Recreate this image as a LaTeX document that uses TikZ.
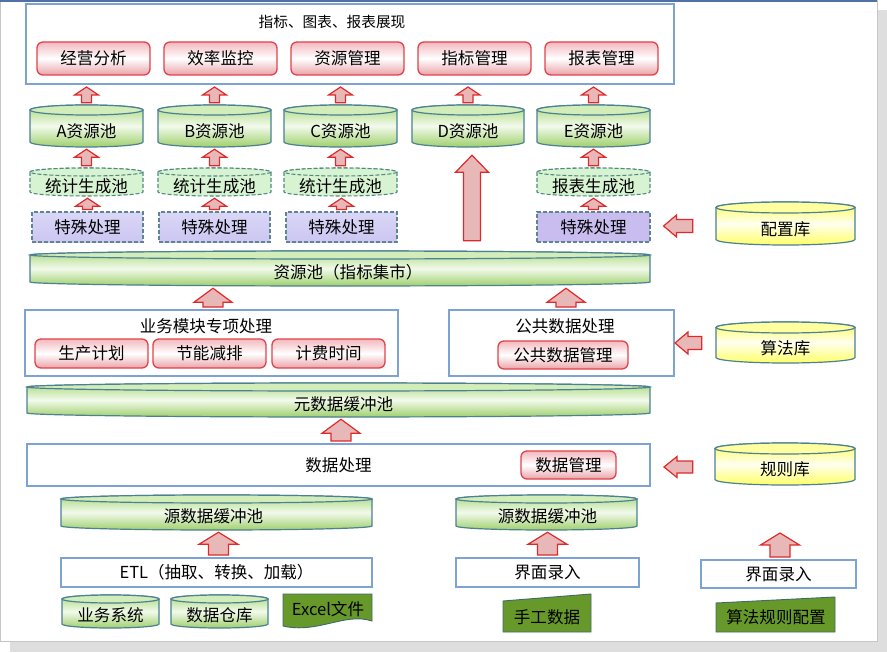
\documentclass[tikz,border=0pt]{standalone}
\usepackage{fontspec}
\setmainfont{Noto Sans CJK SC}
\usetikzlibrary{calc}
\definecolor{bblue}{HTML}{7DA3D5}
\definecolor{rborder}{HTML}{E0434B}
\definecolor{rtop}{HTML}{F3B8BE}
\definecolor{rbot}{HTML}{EAA2A9}
\definecolor{cylb}{HTML}{4C8193}
\definecolor{gtop}{HTML}{A9D97A}
\definecolor{gmid}{HTML}{F2FAEC}
\definecolor{gbot}{HTML}{9FD06C}
\definecolor{gell}{HTML}{D2EDBA}
\definecolor{ytop}{HTML}{FFFF57}
\definecolor{ymid}{HTML}{FFFFF0}
\definecolor{ybot}{HTML}{FFFF66}
\definecolor{yell}{HTML}{FFFFA0}
\definecolor{dfill}{HTML}{D8F3D2}
\definecolor{dashg}{HTML}{4E8A80}
\definecolor{lavtop}{HTML}{DAD7F7}
\definecolor{lavbot}{HTML}{CCC6F1}
\definecolor{lavE}{HTML}{C9BDF0}
\definecolor{dashc}{HTML}{5F8595}
\definecolor{arrred}{HTML}{E02A2A}
\definecolor{arrfill}{HTML}{E8B7B8}
\definecolor{dkgf}{HTML}{67992A}
\definecolor{dkgb}{HTML}{3F6B6E}
\definecolor{shadowgray}{HTML}{DEDEDE}
\definecolor{frameblue}{HTML}{4F71A6}
% cylinder: name, x1, y1, x2, y2, ry, style, text, text x shift
\newcommand\cyl[9]{%
  \path[#7 body] (#2,#3+#6) -- (#2,#5-#6)
     arc[start angle=180,end angle=0,x radius={(#4-#2)/2},y radius=#6]
     -- (#4,#3+#6)
     arc[start angle=0,end angle=-180,x radius={(#4-#2)/2},y radius=#6] -- cycle;
  \path[#7 top] ({(#2+#4)/2},#3+#6) ellipse[x radius={(#4-#2)/2},y radius=#6];
  \node[inner sep=0,minimum width={(#4-#2)*0.75pt},minimum height={(#5-#3)*0.75pt}] (#1) at ({(#2+#4)/2},{(#3+#5)/2}) {};
  \node[txt] (#1-t) at ({(#2+#4)/2+#9},{(#3+2*#6+#5)/2}) {#8};
}
% box: name, x1, y1, x2, y2, style, text
\newcommand\bx[7]{\node[#6,inner sep=0,minimum width={(#4-#2)*0.75pt},minimum height={(#5-#3)*0.75pt}] (#1) at ({(#2+#4)/2},{(#3+#5)/2}) {#7};}
% block arrow up: from, to, halfhead, halfshaft, headlen
\newcommand\blkup[5]{%
  \draw[blk] let \p1=(#1), \p2=(#2) in
   (\x1-#4*0.75pt,\y1+1.5pt) -- (\x1-#4*0.75pt,\y2-1.5pt-#5*0.75pt)
   -- (\x1-#3*0.75pt,\y2-1.5pt-#5*0.75pt) -- (\x1,\y2-1.5pt)
   -- (\x1+#3*0.75pt,\y2-1.5pt-#5*0.75pt) -- (\x1+#4*0.75pt,\y2-1.5pt-#5*0.75pt)
   -- (\x1+#4*0.75pt,\y1+1.5pt) -- cycle;
}
% block arrow left: from (tail), to (tip), halfhead, halfshaft, headlen
\newcommand\blkleft[5]{%
  \draw[blk] let \p1=(#1), \p2=(#2) in
   (\x1,\y2+#4*0.75pt) -- (\x2+#5*0.75pt,\y2+#4*0.75pt)
   -- (\x2+#5*0.75pt,\y2+#3*0.75pt) -- (\x2,\y2)
   -- (\x2+#5*0.75pt,\y2-#3*0.75pt) -- (\x2+#5*0.75pt,\y2-#4*0.75pt)
   -- (\x1,\y2-#4*0.75pt) -- cycle;
}
\begin{document}
\begin{tikzpicture}[x=0.75pt,y=-0.75pt,
  txt/.style={inner sep=0,font=\fontsize{12.4}{14}\selectfont},
  ttl/.style={inner sep=0,font=\fontsize{11}{13}\selectfont},
  bbox/.style={draw=bblue,line width=1.5pt,fill=white,font=\fontsize{12.4}{14}\selectfont},
  redbox/.style={draw=rborder,line width=1pt,rounded corners=4.5pt,top color=rtop,bottom color=rbot,middle color=white,font=\fontsize{12.4}{14}\selectfont},
  lav/.style={draw=dashc,dash pattern=on 3pt off 1.5pt,line width=0.8pt,top color=lavtop,bottom color=lavbot,font=\fontsize{12.4}{14}\selectfont},
  lavdark/.style={draw=dashc,dash pattern=on 3pt off 1.5pt,line width=0.8pt,fill=lavE,font=\fontsize{12.4}{14}\selectfont},
  gcyl body/.style={draw=cylb,line width=0.9pt,top color=gtop,bottom color=gbot,middle color=gmid},
  gcyl top/.style={draw=cylb,line width=0.9pt,fill=gell},
  ycyl body/.style={draw=cylb,line width=0.9pt,top color=ytop,bottom color=ybot,middle color=ymid},
  ycyl top/.style={draw=cylb,line width=0.9pt,fill=yell},
  dcyl body/.style={draw=dashg,dash pattern=on 3pt off 1.5pt,line width=0.8pt,fill=dfill},
  dcyl top/.style={draw=dashg,dash pattern=on 3pt off 1.5pt,line width=0.8pt,fill=dfill},
  blk/.style={draw=arrred,fill=arrfill,line width=0.9pt,line join=miter},
  dkg/.style={draw=dkgb,fill=dkgf,line width=0.7pt}]
\useasboundingbox (0,0) rectangle (887,652);
% page frame and shadow
\fill[white] (0,0) rectangle (887,652);
\fill[shadowgray] (877,10) rectangle (887,652);
\fill[shadowgray] (10,641) rectangle (887,652);
\draw[gray!45,line width=0.6pt] (0.4,0.5) rectangle (877,641);
\draw[frameblue,line width=1.4pt] (0,1) -- (877,1);

% top presentation box
\bx{topbox}{26}{4}{674}{84}{bbox}{}
\node[ttl] (title) at (332,22) {指标、图表、报表展现};
\bx{r1}{37}{42}{150}{75}{redbox}{经营分析}
\bx{r2}{164}{42}{277}{75}{redbox}{效率监控}
\bx{r3}{291}{42}{404}{75}{redbox}{资源管理}
\bx{r4}{418}{42}{531}{75}{redbox}{指标管理}
\bx{r5}{545}{42}{658}{75}{redbox}{报表管理}

% resource pools
\cyl{pA}{30}{105}{143}{147}{5}{gcyl}{A资源池}{0}
\cyl{pB}{158}{105}{271}{147}{5}{gcyl}{B资源池}{0}
\cyl{pC}{284}{105}{397}{147}{5}{gcyl}{C资源池}{0}
\cyl{pD}{412}{105}{524}{147}{5}{gcyl}{D资源池}{0}
\cyl{pE}{537}{105}{650}{147}{5}{gcyl}{E资源池}{0}

% statistic pools
\cyl{sA}{30}{168}{143}{196}{4}{dcyl}{统计生成池}{0}
\cyl{sB}{158}{168}{271}{196}{4}{dcyl}{统计生成池}{0}
\cyl{sC}{284}{168}{397}{196}{4}{dcyl}{统计生成池}{0}
\cyl{sE}{537}{168}{650}{196}{4}{dcyl}{报表生成池}{0}

% special processing
\bx{tA}{32}{212}{143}{242}{lav}{特殊处理}
\bx{tB}{159}{212}{270}{242}{lav}{特殊处理}
\bx{tC}{286}{212}{397}{242}{lav}{特殊处理}
\bx{tE}{537}{212}{650}{242}{lavdark}{特殊处理}

\cyl{cfg}{716}{202}{855}{245}{5.5}{ycyl}{配置库}{0}

% resource pool (index mart)
\cyl{res}{30}{251}{650}{286}{4}{gcyl}{资源池（指标集市）}{8}

% business module box
\bx{biz}{25}{310}{398}{376}{bbox}{}
\node[txt] (bizt) at (206,326) {业务模块专项处理};
\bx{b1}{35}{339}{148}{368}{redbox}{生产计划}
\bx{b2}{153}{339}{266}{368}{redbox}{节能减排}
\bx{b3}{272}{339}{385}{368}{redbox}{计费时间}

% public data box
\bx{pub}{449}{310}{674}{376}{bbox}{}
\node[txt] (pubt) at (565,326) {公共数据处理};
\bx{pm}{498}{341}{628}{369}{redbox}{公共数据管理}

\cyl{algo}{716}{322}{855}{363}{5.5}{ycyl}{算法库}{0}

% meta data buffer
\cyl{meta}{27}{383}{650}{417}{4}{gcyl}{元数据缓冲池}{5}

% data processing
\bx{dp}{27}{444}{650}{486}{bbox}{数据处理}
\bx{dm}{521}{451}{616}{479}{redbox}{数据管理}
\cyl{rule}{715}{443}{855}{485}{5.5}{ycyl}{规则库}{0}

% source buffers
\cyl{src1}{61}{495}{372}{530}{4}{gcyl}{源数据缓冲池}{-3}
\cyl{src2}{456}{495}{637}{530}{4}{gcyl}{源数据缓冲池}{1}

% input boxes
\bx{etl}{61}{558}{372}{587}{bbox}{ETL（抽取、转换、加载）}
\bx{ui1}{456}{558}{639}{587}{bbox}{界面录入}
\bx{ui2}{701}{560}{856}{588}{bbox}{界面录入}

% sources
\cyl{s1}{62}{595}{159}{628}{4}{gcyl}{业务系统}{0}
\cyl{s2}{171}{595}{268}{628}{4}{gcyl}{数据仓库}{0}
\draw[dkg] (283,594) -- (372,594) -- (372,621) .. controls (345,612) and (318,634) .. (283,626) -- cycle;
\node[txt] (excel) at (328,609) {Excel文件};
\draw[dkg] (503,601) -- (591,594) -- (591,632) -- (503,632) -- cycle;
\node[txt] (manual) at (547,617) {手工数据};
\draw[dkg] (716,603) -- (835,597) -- (835,632) -- (716,632) -- cycle;
\node[txt] (algcfg) at (776,617) {算法规则配置};

% arrows: pools to top box
\blkup{pA.north}{topbox.south}{12}{5}{8}
\blkup{pB.north}{topbox.south}{12}{5}{8}
\blkup{pC.north}{topbox.south}{12}{5}{8}
\blkup{pD.north}{topbox.south}{12}{5}{8}
\blkup{pE.north}{topbox.south}{12}{5}{8}
% statistic pools to resource pools
\blkup{sA.north}{pA.south}{12}{5}{8}
\blkup{sB.north}{pB.south}{12}{5}{8}
\blkup{sC.north}{pC.south}{12}{5}{8}
\blkup{sE.north}{pE.south}{12}{5}{8}
% special to statistic
\blkup{tA.north}{sA.south}{12}{5}{8}
\blkup{tB.north}{sB.south}{12}{5}{8}
\blkup{tC.north}{sC.south}{12}{5}{8}
\blkup{tE.north}{sE.south}{12}{5}{8}
% big D arrow
\blkup{$(pD.south|-res.north)+(4,-8)$}{$(pD.south)+(0,6)$}{16.5}{8.5}{17}
% business/public to resource pool
\blkup{$(biz.north)+(1.5,0)$}{res.south}{19}{10}{14}
\blkup{$(pub.north)+(4.5,0)$}{res.south}{19}{10}{14}
% data processing to meta
\blkup{$(dp.north)+(2.5,0)$}{meta.south}{19}{10}{14}
% inputs to source buffers
\blkup{$(etl.north)+(2,0)$}{src1.south}{19.5}{10}{12}
\blkup{ui1.north}{src2.south}{19.5}{10}{12}
\coordinate (c3) at (780,531);
\blkup{$(ui2.north)+(1.5,0)$}{c3}{19.5}{10}{12}
% left arrows from libraries
\blkleft{$(cfg.west)+(-23,0)$}{$(tE.east)+(13,-1)$}{11}{6.5}{13}
\blkleft{$(algo.west)+(-14,0)$}{pub.east}{11}{6.5}{13}
\blkleft{$(rule.west)+(-22,0)$}{$(dp.east)+(13,2)$}{10.5}{6}{13}
\end{tikzpicture}
\end{document}
